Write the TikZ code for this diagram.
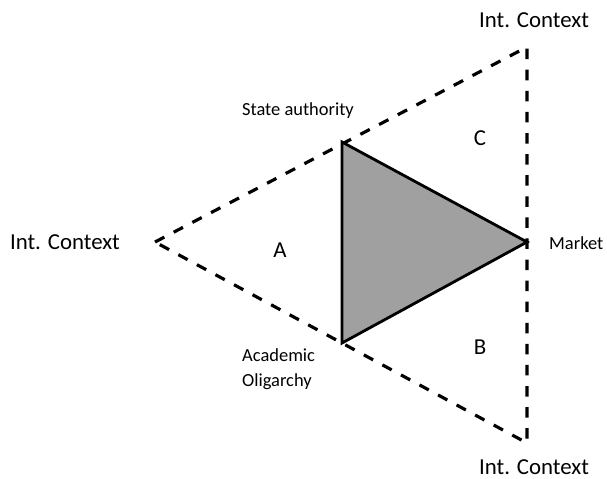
\documentclass[tikz,border=0pt]{standalone}
\usepackage{fontspec}
\setmainfont{Carlito}
\usepackage{xcolor}
\usetikzlibrary{positioning,calc}
\definecolor{innergray}{RGB}{160,160,160}

\begin{document}
\begin{tikzpicture}[
    x=0.02cm, y=-0.02cm,
    biglabel/.style={font=\fontsize{13}{15}\selectfont},
    smalllabel/.style={font=\fontsize{10.5}{12.5}\selectfont, align=left},
    region/.style={font=\fontsize{13}{15}\selectfont},
    outer/.style={draw, line width=1.8pt, dash pattern=on 6pt off 6pt},
    inner/.style={draw, line width=1.6pt, fill=innergray, line join=miter},
]
    \useasboundingbox (0,0) rectangle (607,478);
    % Outer triangle corners
    \coordinate (ctxL) at (155,242);
    \coordinate (ctxT) at (527,47);
    \coordinate (ctxB) at (527,443);
    % Inner triangle corners
    \coordinate (state) at (342,142);
    \coordinate (market) at (527,242);
    \coordinate (oligarchy) at (342,343);
    % Outer dashed triangle
    \draw[outer] (ctxL) -- (ctxT) -- (ctxB) -- cycle;
    % Inner grey triangle
    \draw[inner] (state) -- (market) -- (oligarchy) -- cycle;
    % Corner labels
    \node[biglabel] (lblL) at (65,242) {Int. Context};
    \node[biglabel] (lblT) at (534,20) {Int. Context};
    \node[biglabel] (lblB) at (534,467) {Int. Context};
    \node[smalllabel] (lblS) at (298,111) {State authority};
    \node[smalllabel, anchor=west] (lblM) at (543,243) {Market};
    \node[smalllabel, anchor=north west] (lblO) at (236,342) {Academic\\[2pt]Oligarchy};
    % Region letters
    \node[region] (regA) at (280,250) {A};
    \node[region] (regB) at (480,347) {B};
    \node[region] (regC) at (480,138) {C};
\end{tikzpicture}
\end{document}
